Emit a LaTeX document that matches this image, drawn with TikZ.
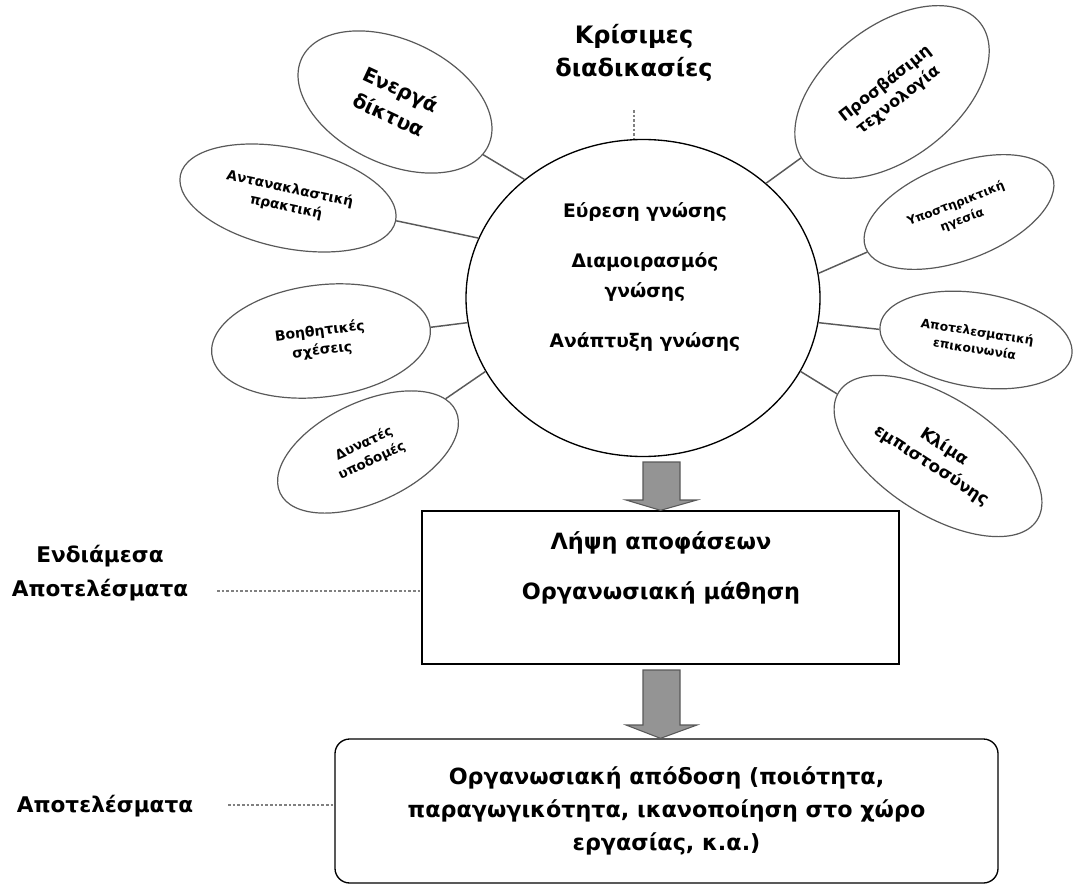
\documentclass[tikz,border=0pt]{standalone}
\usepackage{fontspec}
\setmainfont{DejaVu Sans}
\usetikzlibrary{shapes.geometric, arrows.meta, positioning}

\begin{document}
\begin{tikzpicture}[
        x=0.75pt, y=-0.75pt,
        sat/.style={ellipse, draw=black!65, line width=0.9pt, inner sep=0pt, align=center},
        box/.style={rectangle, draw, line width=1pt, minimum width=357.75pt, minimum height=114.75pt},
        link/.style={draw=black!65, line width=1.1pt},
        dots/.style={draw=black!50, line width=1pt, dash pattern=on 2pt off 1.5pt},
        bigarrow/.style={fill=black!42, draw=black!65, line width=0.8pt},
        lbl/.style={font=\bfseries\fontsize{16.2}{26}\selectfont, align=center}
    ]
    \useasboundingbox (0,0) rectangle (1087,884);
    % centre circle
    \node[ellipse, draw, line width=1pt, minimum width=265.5pt, minimum height=237.75pt] (C) at (643,298) {};
    \node[align=center, font=\bfseries\fontsize{14}{22.5}\selectfont] (Ct) at (645,277)
        {Εύρεση γνώσης\\[15pt] Διαμοιρασμός\\ γνώσης\\[15pt] Ανάπτυξη γνώσης};
    \node[align=center, font=\bfseries\fontsize{18}{24.75}\selectfont] (K) at (634,53) {Κρίσιμες\\διαδικασίες};
    \coordinate (k1) at (634,110);
    \draw[dots] (k1) -- (k1 |- C.north);

    % satellites
    \node[sat, minimum width=154.5pt, minimum height=93pt, rotate=-25, font=\bfseries\fontsize{15}{21}\selectfont] (E1) at (395,102) {Ενεργά\\δίκτυα};
    \node[sat, minimum width=165pt, minimum height=75pt, rotate=-12, font=\bfseries\fontsize{10.3}{14}\selectfont] (E2) at (288,198) {Αντανακλαστική\\πρακτική};
    \node[sat, minimum width=165pt, minimum height=84pt, rotate=7, font=\bfseries\fontsize{10.5}{14.5}\selectfont] (E3) at (321,341) {Βοηθητικές\\σχέσεις};
    \node[sat, minimum width=145.5pt, minimum height=75pt, rotate=25, font=\bfseries\fontsize{10}{14}\selectfont] (E4) at (368,452) {Δυνατές\\υποδομές};
    \node[sat, minimum width=168pt, minimum height=99pt, rotate=38, font=\bfseries\fontsize{12}{15.5}\selectfont] (E5) at (892,92) {Προσβάσιμη\\τεχνολογία};
    \node[sat, minimum width=150pt, minimum height=72pt, rotate=21, font=\bfseries\fontsize{9}{13}\selectfont] (E6) at (959,212) {Υποστηρικτική\\ηγεσία};
    \node[sat, minimum width=145.5pt, minimum height=70.5pt, rotate=-9, font=\bfseries\fontsize{9.2}{13}\selectfont] (E7) at (976,340) {Αποτελεσματική\\επικοινωνία};
    \node[sat, minimum width=177pt, minimum height=87pt, rotate=-33, font=\bfseries\fontsize{12.5}{17}\selectfont] (E8) at (938,456) {Κλίμα\\εμπιστοσύνης};
    \foreach \e/\a in {E1/135, E2/160, E3/188, E4/205, E5/43, E6/8, E7/352, E8/335}
        \draw[link] (\e) -- (C.\a);

    % boxes
    \node[box] (B1) at (660.5,587.5) {};
    \node[align=center, font=\bfseries\fontsize{16.8}{37.5}\selectfont] (T1) at (661,568) {Λήψη αποφάσεων\\Οργανωσιακή μάθηση};
    \node[box, rounded corners=11pt, minimum width=497.25pt, minimum height=108pt, align=center,
        font=\bfseries\fontsize{16.7}{24.75}\selectfont] (B2) at (666.5,811)
        {Οργανωσιακή απόδοση (ποιότητα,\\παραγωγικότητα, ικανοποίηση στο χώρο\\εργασίας, κ.α.)};
    \draw[bigarrow] (643,462) -- (680,462) -- (680,500) -- (697,500) -- (B1.north) -- (626,500) -- (643,500) -- cycle;
    \draw[bigarrow] (643,670) -- (680,670) -- (680,725) -- (697,725) -- (B1.north |- B2.north) -- (626,725) -- (643,725) -- cycle;

    % side labels
    \node[lbl] (L1) at (100,573) {Ενδιάμεσα\\Αποτελέσματα};
    \node[lbl] (L2) at (105,806) {Αποτελέσματα};
    \coordinate (m1) at (217,591);
    \coordinate (m2) at (228,805);
    \draw[dots] (m1) -- (m1 -| B1.west);
    \draw[dots] (m2) -- (m2 -| B2.west);
\end{tikzpicture}
\end{document}
